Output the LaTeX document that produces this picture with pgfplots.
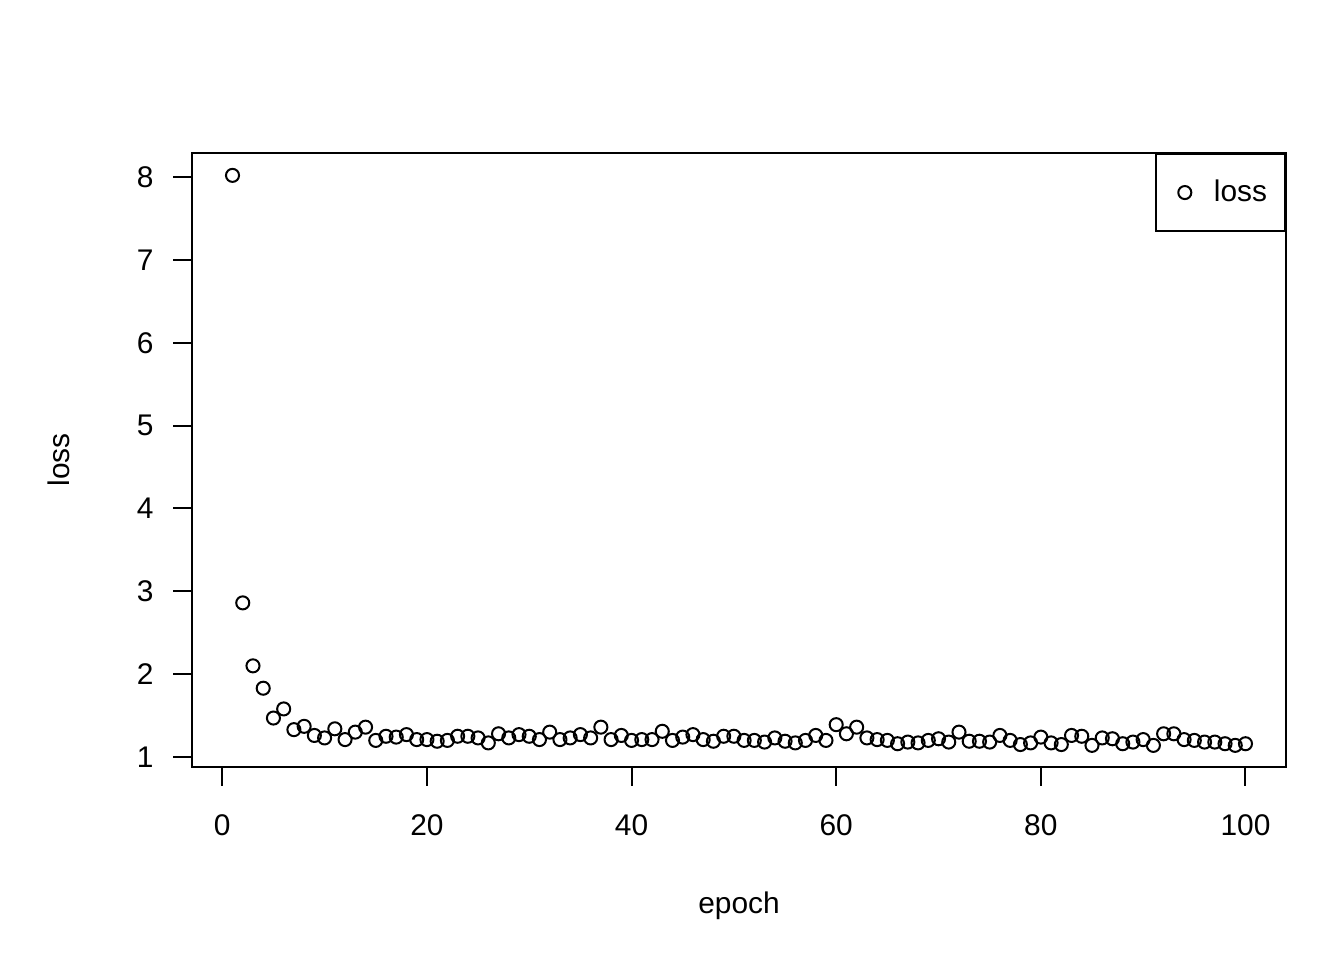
\documentclass[border=0pt]{standalone}
\usepackage{fontspec}
\setmainfont{Liberation Sans}
\usepackage{pgfplots}
\pgfplotsset{compat=1.18}
\begin{document}
\fontsize{11.2}{13}\selectfont
\begin{tikzpicture}
\useasboundingbox (0,0) rectangle (504pt,360pt);
\begin{axis}[
  at={(72pt,72.375pt)}, anchor=south west,
  scale only axis, width=410.25pt, height=230.25pt,
  xmin=-2.96, xmax=103.96, ymin=0.879, ymax=8.29,
  xtick={0,20,40,60,80,100}, ytick={1,2,3,4,5,6,7,8},
  xtick pos=bottom, ytick pos=left,
  tick align=outside, major tick length=7.1pt,
  axis line style={line width=0.75pt},
  every tick/.style={black, line width=0.75pt},
  /pgf/number format/assume math mode=true,
  xticklabel style={font=\fontsize{11.2}{13}\selectfont, yshift=-7pt},
  yticklabel style={font=\fontsize{11.2}{13}\selectfont, xshift=-3.4pt},
  xlabel={epoch}, ylabel={loss},
  xlabel style={at={([yshift=-55pt]axis description cs:0.5,0)}, anchor=base},
  ylabel style={at={([xshift=-46pt]axis description cs:0,0.5)}, anchor=base, rotate=0},
  legend style={at={(1,1)}, anchor=north east, draw=black, line width=0.75pt,
    inner sep=0pt, nodes={inner sep=0pt}, font=\fontsize{11.2}{13}\selectfont},
  legend image code/.code={\path[draw=none] (-10.9pt,-14.45pt) rectangle (10.9pt,14.45pt);
    \draw[black, line width=0.75pt] (0pt,0pt) circle (2.45pt);},
]
\addplot[only marks, mark=o, mark size=2.45pt, mark options={line width=0.75pt, black}]
coordinates {
(1,8.02) (2,2.86) (3,2.10) (4,1.83) (5,1.47) (6,1.58) (7,1.33) (8,1.37) (9,1.26) (10,1.23)
(11,1.34) (12,1.21) (13,1.30) (14,1.36) (15,1.20) (16,1.25) (17,1.24) (18,1.27) (19,1.21) (20,1.21)
(21,1.19) (22,1.20) (23,1.25) (24,1.25) (25,1.23) (26,1.17) (27,1.28) (28,1.23) (29,1.27) (30,1.25)
(31,1.21) (32,1.30) (33,1.21) (34,1.23) (35,1.27) (36,1.23) (37,1.36) (38,1.21) (39,1.26) (40,1.20)
(41,1.21) (42,1.21) (43,1.31) (44,1.20) (45,1.24) (46,1.27) (47,1.21) (48,1.19) (49,1.25) (50,1.25)
(51,1.20) (52,1.20) (53,1.18) (54,1.23) (55,1.19) (56,1.17) (57,1.20) (58,1.26) (59,1.20) (60,1.39)
(61,1.28) (62,1.36) (63,1.23) (64,1.21) (65,1.20) (66,1.16) (67,1.18) (68,1.17) (69,1.20) (70,1.22)
(71,1.18) (72,1.30) (73,1.19) (74,1.19) (75,1.18) (76,1.26) (77,1.20) (78,1.15) (79,1.17) (80,1.24)
(81,1.17) (82,1.15) (83,1.26) (84,1.25) (85,1.14) (86,1.23) (87,1.22) (88,1.16) (89,1.18) (90,1.21)
(91,1.14) (92,1.28) (93,1.28) (94,1.21) (95,1.20) (96,1.18) (97,1.18) (98,1.16) (99,1.14) (100,1.16)
};
\addlegendentry{loss\kern6.75pt}
\end{axis}
\end{tikzpicture}
\end{document}
